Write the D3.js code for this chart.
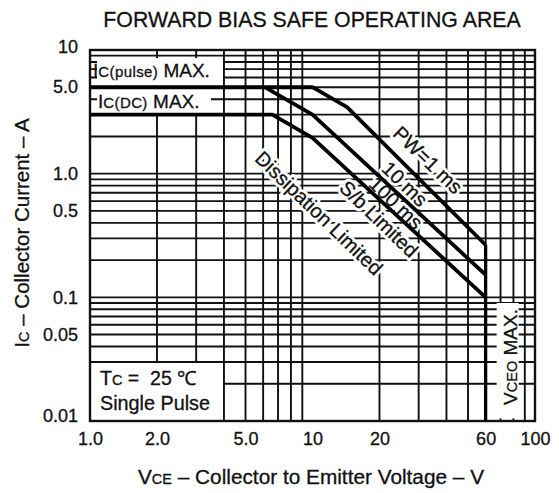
<!DOCTYPE html>
<html>
<head>
<meta charset="utf-8">
<script src="https://cdn.jsdelivr.net/npm/d3@7"></script>
<style>
  body { margin: 0; background: #fff; }
  svg { display: block; }
  text { font-family: "Liberation Sans", Arial, Helvetica, sans-serif; fill: #111; }
  .ink { stroke: #111; stroke-width: 0.3px; }
</style>
</head>
<body>
<div id="chart"></div>
<script>
// axis ticks
var xTickVals = [1, 2, 5, 10, 20, 60, 100];
var xTickText = ["1.0", "2.0", "5.0", "10", "20", "60", "100"];
var yTickVals = [10, 5, 1, 0.5, 0.1, 0.05, 0.01];
var yTickText = ["10", "5.0", "1.0", "0.5", "0.1", "0.05", "0.01"];

// log grid
var gridVolts = [2, 3, 4, 5, 6, 7, 8, 9, 20, 30, 40, 50, 60, 70, 80, 90];
var gridAmps = [0.02, 0.03, 0.04, 0.05, 0.06, 0.07, 0.08, 0.09, 0.1,
                0.2, 0.3, 0.4, 0.5, 0.6, 0.7, 0.8, 0.9, 1,
                2, 3, 4, 5, 6, 7, 8, 9];

// SOA boundaries (V, A)
var volts1ms = [1, 10, 14.3, 60];
var amps1ms = [5, 5, 3.45, 0.265];
var volts10ms = [6.1, 10, 60];
var amps10ms = [5, 3.0, 0.152];
var voltsDC = [1, 6.6, 10, 60];
var ampsDC = [3, 3, 1.95, 0.1];
var voltsVceo = [60, 60];
var ampsVceo = [0.265, 0.01];

// rotated notes on the curves
var noteText = ["PW=1 ms", "10 ms", "100 ms", "S/b Limited", "Dissipation Limited"];
var noteVolts = [33.0, 26.0, 23.7, 19.9, 10.7];
var noteAmps = [1.29, 0.826, 0.58, 0.43, 0.48];

var W = 559, H = 493;
var svg = d3.select("#chart").append("svg").attr("width", W).attr("height", H);

var x = d3.scaleLog().domain([1, 100]).range([90, 535]);
var y = d3.scaleLog().domain([0.01, 10]).range([421, 50]);

function pts(vs, as) { return vs.map(function(v, i) { return [v, as[i]]; }); }
var line = d3.line().x(function(d) { return x(d[0]); }).y(function(d) { return y(d[1]); });

// grid
var grid = svg.append("g").attr("stroke", "#111").attr("stroke-width", 1.9);
grid.selectAll("line.v").data(gridVolts).enter().append("line")
  .attr("x1", function(d) { return x(d); }).attr("x2", function(d) { return x(d); })
  .attr("y1", y(10)).attr("y2", y(0.01));
grid.selectAll("line.h").data(gridAmps).enter().append("line")
  .attr("y1", function(d) { return y(d); }).attr("y2", function(d) { return y(d); })
  .attr("x1", x(1)).attr("x2", x(100));

// white label panels over the grid
var panels = svg.append("g").attr("fill", "#fff");
panels.append("rect").attr("x", x(1) + 7).attr("y", y(8.6))
  .attr("width", x(4) - x(1) - 8).attr("height", y(5) - y(8.6) - 1.5);
panels.append("rect").attr("x", x(1) + 7).attr("y", y(5) + 1.5)
  .attr("width", x(4) - x(1) - 20).attr("height", y(3) - y(5) - 3);
panels.append("rect").attr("x", x(1) + 1).attr("y", y(0.03) + 1)
  .attr("width", x(4) - x(1) - 2).attr("height", y(0.01) - y(0.03) - 2);
panels.append("rect").attr("x", x(60) + 11).attr("y", y(0.09))
  .attr("width", 22).attr("height", y(0.0105) - y(0.09));

// frame
svg.append("rect").attr("x", x(1)).attr("y", y(10))
  .attr("width", x(100) - x(1)).attr("height", y(0.01) - y(10))
  .attr("fill", "none").attr("stroke", "#111").attr("stroke-width", 2.4);

// note halos (under the curves)
var noteData = noteText.map(function(t, i) { return { t: t, v: noteVolts[i], a: noteAmps[i] }; });
function placeNote(sel) {
  sel.attr("transform", function(d) { return "translate(" + x(d.v) + "," + y(d.a) + ") rotate(44)"; })
    .attr("text-anchor", "middle").attr("dominant-baseline", "central")
    .attr("font-size", 20).text(function(d) { return d.t; });
}
svg.append("g").selectAll("text").data(noteData).enter().append("text")
  .call(placeNote).style("fill", "#fff").attr("stroke", "#fff").attr("stroke-width", 6)
  .attr("stroke-linejoin", "round");

// curves
var curves = [pts(volts1ms, amps1ms), pts(volts10ms, amps10ms), pts(voltsDC, ampsDC)];
svg.append("g").selectAll("path").data(curves).enter().append("path")
  .attr("d", line).attr("fill", "none").attr("stroke", "#000")
  .attr("stroke-width", 3.8).attr("stroke-linejoin", "round");
svg.append("path").datum(pts(voltsVceo, ampsVceo))
  .attr("d", line).attr("fill", "none").attr("stroke", "#000").attr("stroke-width", 3.3);

svg.append("g").selectAll("text").data(noteData).enter().append("text")
  .attr("class", "ink").call(placeNote);

// axes
var xAxis = d3.axisBottom(x).tickValues(xTickVals)
  .tickFormat(function(d, i) { return xTickText[i]; }).tickSize(0).tickPadding(11);
var gx = svg.append("g").attr("transform", "translate(0," + y(0.01) + ")").call(xAxis);
var yAxis = d3.axisLeft(y).tickValues(yTickVals)
  .tickFormat(function(d, i) { return yTickText[i]; }).tickSize(0).tickPadding(12);
var gy = svg.append("g").attr("transform", "translate(" + x(1) + ",0)").call(yAxis);
[gx, gy].forEach(function(g) {
  g.select(".domain").remove();
  g.selectAll("text").attr("font-size", 18).attr("font-family", null)
    .attr("class", "ink").style("fill", "#111");
});
gy.selectAll("text").filter(function(d) { return d === 10; }).attr("dy", "0.16em");
gy.selectAll("text").filter(function(d) { return d === 0.01; }).attr("dy", "0.02em");

// title
svg.append("text").attr("x", 312).attr("y", 27).attr("text-anchor", "middle")
  .attr("class", "ink").attr("font-size", 21.3).text("FORWARD BIAS SAFE OPERATING AREA");

// axis titles
var yt = svg.append("text").attr("transform", "translate(29,233) rotate(-90)")
  .attr("text-anchor", "middle").attr("class", "ink").attr("font-size", 20.5);
yt.append("tspan").text("I");
yt.append("tspan").attr("font-size", 14.5).text("C");
yt.append("tspan").text(" \u2013 Collector Current \u2013 A");

var xt = svg.append("text").attr("x", 311).attr("y", 484)
  .attr("text-anchor", "middle").attr("class", "ink").attr("font-size", 20.8);
xt.append("tspan").text("V");
xt.append("tspan").attr("font-size", 14.5).text("CE");
xt.append("tspan").text(" \u2013 Collector to Emitter Voltage \u2013 V");

// limit labels
var lp = svg.append("text").attr("x", x(1) + 3).attr("y", 77).attr("class", "ink").attr("font-size", 19);
lp.append("tspan").text("I");
lp.append("tspan").attr("font-size", 15).attr("letter-spacing", 0.4).text("C(pulse)");
lp.append("tspan").text(" MAX.");

var ld = svg.append("text").attr("x", x(1) + 8).attr("y", 108).attr("class", "ink").attr("font-size", 19);
ld.append("tspan").text("I");
ld.append("tspan").attr("font-size", 15).attr("letter-spacing", 0.4).text("C(DC)");
ld.append("tspan").text(" MAX.");

var lv = svg.append("text").attr("transform", "translate(" + (x(60) + 31) + ",357) rotate(-90)")
  .attr("text-anchor", "middle").attr("class", "ink").attr("font-size", 19);
lv.append("tspan").text("V");
lv.append("tspan").attr("font-size", 14.5).text("CEO");
lv.append("tspan").text(" MAX.");

var tc = svg.append("text").attr("x", x(1) + 10).attr("y", 385).attr("class", "ink").attr("font-size", 19.5);
tc.append("tspan").text("T");
tc.append("tspan").attr("font-size", 14.5).text("C");
tc.append("tspan").attr("xml:space", "preserve").text(" =  25 \u2103");
svg.append("text").attr("x", x(1) + 10).attr("y", 410).attr("class", "ink")
  .attr("font-size", 19.8).text("Single Pulse");
</script>
</body>
</html>
